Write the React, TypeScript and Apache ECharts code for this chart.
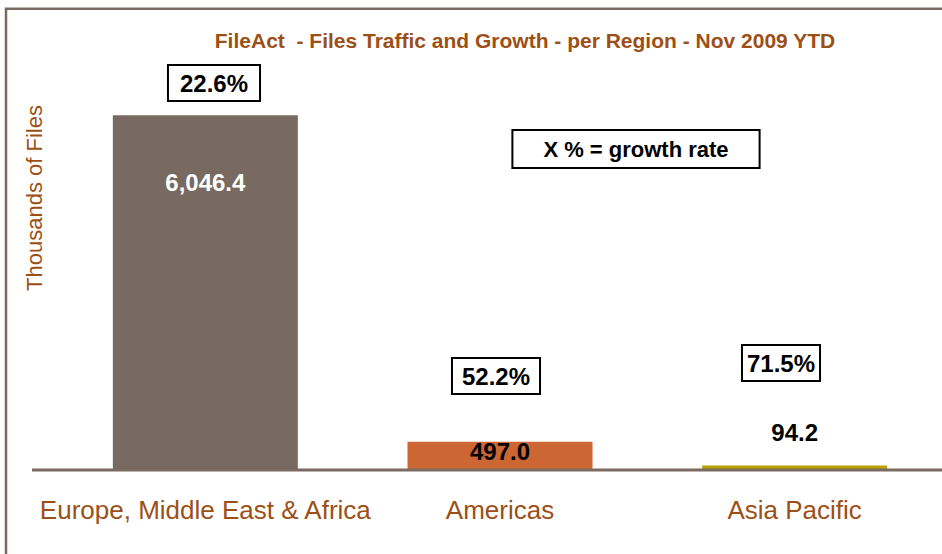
import React, { useEffect, useRef } from "react";
import * as echarts from "echarts";

const categories = ["Europe, Middle East & Africa", "Americas", "Asia Pacific"];
const filesThousands = [6046.4, 497.0, 94.2];
const growthRates = ["22.6%", "52.2%", "71.5%"];
const barColors = ["#786a60", "#cc6633", "#b8a200"];

const FONT = "'Liberation Sans', Arial, Helvetica, sans-serif";
const BROWN = "#9c4f16";
const AXIS_GRAY = "#7a6a60";

// layout of the hand-placed growth boxes (pixel centres and paddings)
const growthBoxLayout = [
  { x: 214, y: 83, padX: 11 },
  { x: 496, y: 376, padX: 9 },
  { x: 781, y: 363, padX: 4 },
];

const valueLabelStyles = [
  { position: "insideTop", distance: 55, color: "#ffffff" },
  { position: "insideTop", distance: -2, color: "#000000" },
  { position: "top", distance: 21, color: "#000000" },
];

export default function App() {
  const ref = useRef<HTMLDivElement>(null);

  useEffect(() => {
    if (!ref.current) return;
    const chart = echarts.init(ref.current, null, { renderer: "svg" });

    const fmt = (v: number) =>
      v.toLocaleString("en-US", { minimumFractionDigits: 1, maximumFractionDigits: 1 });

    const graphics: any[] = [
      {
        type: "rect",
        shape: { x: 6, y: 8.75, width: 2000, height: 2000 },
        style: { fill: "none", stroke: AXIS_GRAY, lineWidth: 2.5 },
        silent: true,
        z: 0,
      },
      {
        type: "line",
        shape: { x1: 32, y1: 470, x2: 942, y2: 470 },
        style: { stroke: AXIS_GRAY, lineWidth: 3 },
        z: 100,
      },
      {
        type: "text",
        x: 34,
        y: 198,
        rotation: Math.PI / 2,
        style: {
          text: "Thousands of Files",
          font: `22px ${FONT}`,
          fill: BROWN,
          align: "center",
          verticalAlign: "middle",
        },
      },
      {
        type: "text",
        x: 636,
        y: 149,
        z: 100,
        style: {
          text: "X % = growth rate",
          font: `bold 22px ${FONT}`,
          fill: "#000",
          align: "center",
          verticalAlign: "middle",
          backgroundColor: "#fff",
          borderColor: "#000",
          borderWidth: 2,
          padding: [7, 30, 7, 30],
        },
      },
    ];

    growthRates.forEach((g, i) => {
      const l = growthBoxLayout[i];
      graphics.push({
        type: "text",
        x: l.x,
        y: l.y,
        z: 100,
        style: {
          text: g,
          font: `bold 24px ${FONT}`,
          fill: "#000",
          align: "center",
          verticalAlign: "middle",
          backgroundColor: "#fff",
          borderColor: "#000",
          borderWidth: 2,
          padding: [5, l.padX, 5, l.padX],
        },
      });
    });

    chart.setOption({
      animation: false,
      title: {
        text: "FileAct  - Files Traffic and Growth - per Region - Nov 2009 YTD",
        left: 520,
        top: 25,
        textAlign: "center",
        textStyle: { fontFamily: FONT, fontSize: 21, fontWeight: "bold", color: BROWN },
      },
      grid: { left: 58, top: 59, width: 886, height: 412 },
      xAxis: {
        type: "category",
        data: categories,
        axisLine: { show: false },
        axisTick: { show: false },
        axisLabel: {
          fontFamily: FONT,
          fontSize: 26,
          color: BROWN,
          margin: 26,
          interval: 0,
        },
      },
      yAxis: {
        type: "value",
        min: 0,
        max: 7000,
        show: false,
      },
      series: [
        {
          type: "bar",
          barWidth: 185,
          data: filesThousands.map((v, i) => ({
            value: v,
            itemStyle: { color: barColors[i] },
            label: {
              show: true,
              position: valueLabelStyles[i].position,
              distance: valueLabelStyles[i].distance,
              color: valueLabelStyles[i].color,
              fontFamily: FONT,
              fontSize: 24,
              fontWeight: "bold",
              formatter: () => fmt(v),
            },
          })),
        },
      ],
      graphic: graphics,
    });

    return () => chart.dispose();
  }, []);

  return (
    <div
      ref={ref}
      style={{ position: "fixed", left: 0, top: 0, width: 942, height: 554, background: "#fff" }}
    />
  );
}
